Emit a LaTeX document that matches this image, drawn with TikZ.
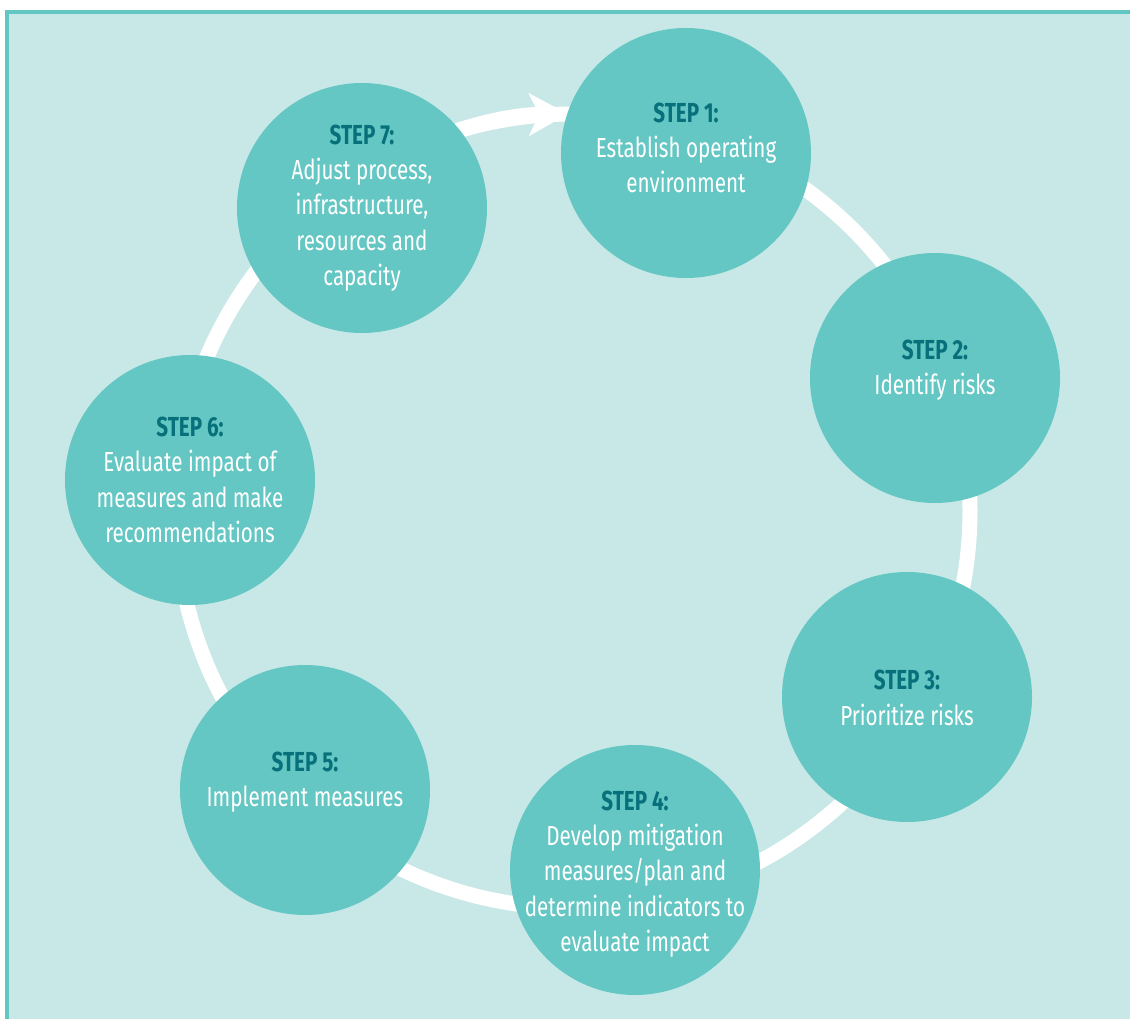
\documentclass[tikz,border=0pt]{standalone}
\usepackage{fontspec}
\setmainfont[FakeStretch=0.75]{Fira Sans}
\usetikzlibrary{arrows.meta}

\definecolor{paper}{HTML}{C8E8E7}
\definecolor{disc}{HTML}{64C7C3}
\definecolor{frame}{HTML}{62C6C2}
\definecolor{stepink}{HTML}{07707A}

\tikzset{
  stepdisc/.style={circle, fill=disc, minimum size=250pt, inner sep=0pt},
  steptext/.style={text=white, align=center, inner sep=0pt,
    font=\fontsize{27.5}{35.3}\selectfont},
  ring/.style={draw=white, line width=15pt},
}
\newcommand\stephead[1]{{\color{stepink}\bfseries #1}}

\begin{document}
\begin{tikzpicture}[x=1pt, y=-1pt]
  \useasboundingbox (0,0) rectangle (1130,1019);
  \fill[white] (0,0) rectangle (1130,1019);
  \fill[paper] (5,10) rectangle (1130,1019);
  \draw[frame, line width=4pt] (7,1019) -- (7,12) -- (1130,12);

  % the cycle ring and its arrow into step 1
  \coordinate (hub) at (573,511);
  \draw[ring] (hub) circle[radius=397];
  \draw[ring, -{Stealth[length=39pt, width=42pt, inset=10pt]}]
    (hub) ++(240:397) arc[start angle=240, end angle=269.3, radius=397];

  % step discs
  \node[stepdisc] (s1) at (686,153) {};
  \node[stepdisc] (s2) at (935,378) {};
  \node[stepdisc] (s3) at (907,697) {};
  \node[stepdisc] (s4) at (635,870) {};
  \node[stepdisc] (s5) at (305,790) {};
  \node[stepdisc] (s6) at (190,480) {};
  \node[stepdisc] (s7) at (362,208) {};

  % step texts
  \node[steptext] (t1) at (686,148)
    {\stephead{STEP 1:}\\Establish operating\\environment};
  \node[steptext] (t2) at (935,370)
    {\stephead{STEP 2:}\\Identify risks};
  \node[steptext] (t3) at (907,698)
    {\stephead{STEP 3:}\\Prioritize risks};
  \node[steptext] (t4) at (635,874)
    {\stephead{STEP 4:}\\Develop mitigation\\measures/plan and\\determine indicators to\\evaluate impact};
  \node[steptext] (t5) at (305,782)
    {\stephead{STEP 5:}\\Implement measures};
  \node[steptext] (t6) at (190,480)
    {\stephead{STEP 6:}\\Evaluate impact of\\measures and make\\recommendations};
  \node[steptext] (t7) at (362,208)
    {\stephead{STEP 7:}\\Adjust process,\\infrastructure,\\resources and\\capacity};
\end{tikzpicture}
\end{document}
